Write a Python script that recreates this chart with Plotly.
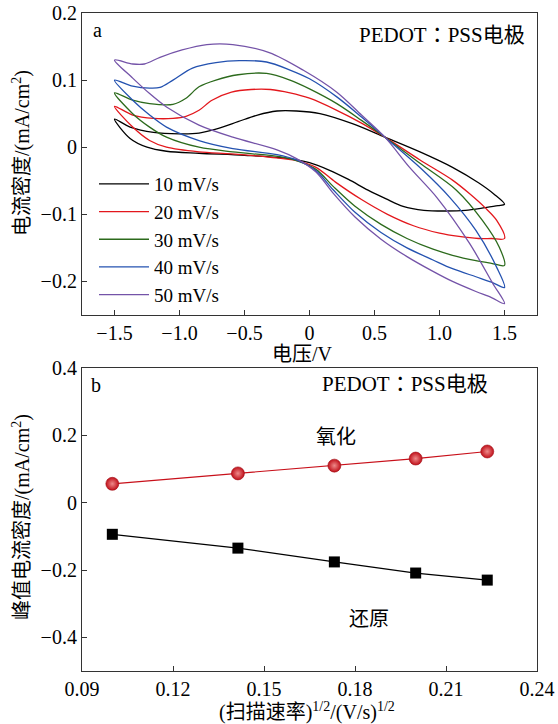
import plotly.graph_objects as go

W, H = 558, 724
SERIF = "Liberation Serif, Times New Roman, Noto Sans CJK SC"
SERIF_TC = "Liberation Serif, Times New Roman, Noto Sans CJK TC"

# ---------------- Panel a: CV curves (forward sweep then reverse sweep) ----------------
scan_labels = ["10 mV/s", "20 mV/s", "30 mV/s", "40 mV/s", "50 mV/s"]
scan_colors = ["#000000", "#e3171c", "#2c6a1c", "#2452b0", "#7453a8"]

v10 = [-1.5, -1.38, -1.2, -1.0, -0.85, -0.7, -0.55, -0.4, -0.25, -0.1, 0.08, 0.33, 0.58, 0.85, 1.1, 1.3, 1.42, 1.5,
       1.45, 1.35, 1.2, 1.05, 0.88, 0.72, 0.59, 0.45, 0.3, 0.15, 0.0, -0.2, -0.5, -0.85, -1.1, -1.25, -1.38, -1.5]
i10 = [0.042, 0.030, 0.022, 0.020, 0.021, 0.028, 0.038, 0.048, 0.054, 0.054, 0.050, 0.035, 0.015, -0.007, -0.030, -0.053, -0.070, -0.085,
       -0.087, -0.090, -0.094, -0.095, -0.094, -0.088, -0.077, -0.064, -0.048, -0.034, -0.023, -0.016, -0.012, -0.009, -0.006, 0.0, 0.013, 0.042]

v20 = [-1.5, -1.36, -1.2, -1.05, -0.95, -0.85, -0.75, -0.6, -0.45, -0.3, -0.15, 0.0, 0.21, 0.4, 0.58, 0.85, 1.1, 1.23, 1.35, 1.44, 1.5,
       1.4, 1.3, 1.15, 1.0, 0.8, 0.6, 0.4, 0.2, 0.05, -0.1, -0.3, -0.6, -0.85, -1.1, -1.23, -1.36, -1.5]
i20 = [0.061, 0.048, 0.043, 0.043, 0.046, 0.055, 0.070, 0.082, 0.086, 0.086, 0.081, 0.073, 0.055, 0.036, 0.015, -0.019, -0.049, -0.069, -0.090, -0.109, -0.136,
       -0.136, -0.136, -0.133, -0.128, -0.117, -0.100, -0.078, -0.052, -0.030, -0.020, -0.015, -0.010, -0.007, 0.0, 0.010, 0.030, 0.061]

v30 = [-1.5, -1.36, -1.23, -1.05, -0.95, -0.85, -0.72, -0.55, -0.33, -0.15, 0.0, 0.21, 0.4, 0.58, 0.85, 1.13, 1.33, 1.46, 1.5,
       1.4, 1.28, 1.1, 0.95, 0.75, 0.55, 0.35, 0.18, 0.05, -0.1, -0.23, -0.59, -0.85, -1.1, -1.23, -1.36, -1.5]
i30 = [0.081, 0.070, 0.065, 0.064, 0.073, 0.090, 0.100, 0.108, 0.110, 0.100, 0.087, 0.065, 0.040, 0.015, -0.024, -0.064, -0.109, -0.149, -0.176,
       -0.173, -0.169, -0.161, -0.152, -0.136, -0.115, -0.088, -0.058, -0.033, -0.020, -0.014, -0.007, 0.0, 0.015, 0.030, 0.050, 0.081]

v40 = [-1.5, -1.36, -1.23, -1.15, -1.05, -0.9, -0.72, -0.54, -0.33, -0.15, 0.0, 0.21, 0.4, 0.58, 0.87, 1.08, 1.28, 1.44, 1.5,
       1.4, 1.28, 1.1, 0.95, 0.75, 0.55, 0.35, 0.18, 0.05, -0.1, -0.25, -0.59, -0.85, -1.1, -1.23, -1.36, -1.5]
i40 = [0.100, 0.091, 0.088, 0.089, 0.100, 0.118, 0.126, 0.129, 0.127, 0.115, 0.102, 0.075, 0.045, 0.015, -0.034, -0.075, -0.124, -0.179, -0.209,
       -0.201, -0.193, -0.181, -0.168, -0.150, -0.127, -0.097, -0.063, -0.035, -0.019, -0.011, -0.002, 0.010, 0.030, 0.048, 0.070, 0.100]

v50 = [-1.5, -1.36, -1.27, -1.15, -0.98, -0.79, -0.59, -0.31, -0.05, 0.21, 0.4, 0.58, 0.77, 0.98, 1.23, 1.41, 1.5,
       1.4, 1.28, 1.1, 0.95, 0.75, 0.55, 0.35, 0.18, 0.05, -0.1, -0.25, -0.59, -0.85, -1.1, -1.23, -1.36, -1.5]
i50 = [0.130, 0.124, 0.124, 0.134, 0.145, 0.153, 0.153, 0.141, 0.115, 0.082, 0.048, 0.015, -0.030, -0.075, -0.143, -0.203, -0.233,
       -0.224, -0.215, -0.200, -0.185, -0.163, -0.137, -0.104, -0.068, -0.037, -0.017, -0.004, 0.015, 0.033, 0.060, 0.080, 0.103, 0.130]

cv_v = [v10, v20, v30, v40, v50]
cv_i = [i10, i20, i30, i40, i50]

xa_ticks = [-1.5, -1.0, -0.5, 0, 0.5, 1.0, 1.5]
xa_text = ["\u22121.5", "\u22121.0", "\u22120.5", "0", "0.5", "1.0", "1.5"]
ya_ticks = [0.2, 0.1, 0, -0.1, -0.2]
ya_text = ["0.2", "0.1", "0", "\u22120.1", "\u22120.2"]

# ---------------- Panel b: peak current vs sqrt(scan rate) ----------------
sqrt_rate = [0.1, 0.1414, 0.1732, 0.2, 0.2236]
ox_peak = [0.056, 0.087, 0.110, 0.131, 0.152]
red_peak = [-0.094, -0.135, -0.176, -0.209, -0.230]

xb_ticks = [0.09, 0.12, 0.15, 0.18, 0.21, 0.24]
xb_text = ["0.09", "0.12", "0.15", "0.18", "0.21", "0.24"]
yb_ticks = [0.4, 0.2, 0, -0.2, -0.4]
yb_text = ["0.4", "0.2", "0", "\u22120.2", "\u22120.4"]


def px(x):
    return x / W


def py(y):
    return 1 - y / H


fig = go.Figure()
for k in range(5):
    fig.add_trace(go.Scatter(
        x=cv_v[k], y=cv_i[k], mode="lines", name=scan_labels[k],
        line=dict(color=scan_colors[k], width=1.3, shape="spline", smoothing=0.9),
        xaxis="x", yaxis="y", showlegend=True))

fig.add_trace(go.Scatter(
    x=sqrt_rate, y=ox_peak, mode="lines+markers", showlegend=False,
    line=dict(color="#c8101a", width=1.2),
    marker=dict(symbol="circle", size=13, color="#c0101a",
                gradient=dict(type="radial", color="#ee8a8a"),
                line=dict(color="#a00c14", width=0.6)),
    xaxis="x2", yaxis="y2"))
fig.add_trace(go.Scatter(
    x=sqrt_rate, y=red_peak, mode="lines+markers", showlegend=False,
    line=dict(color="#000000", width=1.2),
    marker=dict(symbol="square", size=11, color="#000000"),
    xaxis="x2", yaxis="y2"))

dom_x = [px(82), px(537)]
axis_common = dict(showline=True, linecolor="#333333", linewidth=1.2, mirror=True,
                   ticks="inside", ticklen=5, tickwidth=1.2, tickcolor="#333333",
                   showgrid=False, zeroline=False, automargin=False,
                   tickfont=dict(family=SERIF, size=20, color="#000000"))

fig.update_layout(
    width=W, height=H, margin=dict(l=0, r=0, t=0, b=0, pad=0, autoexpand=False),
    paper_bgcolor="white", plot_bgcolor="white",
    xaxis=dict(domain=dom_x, range=[-1.75, 1.75], anchor="y",
               tickvals=xa_ticks, ticktext=xa_text, **axis_common),
    yaxis=dict(domain=[py(315), py(13)], range=[-0.25, 0.2], anchor="x",
               tickvals=ya_ticks, ticktext=ya_text, **axis_common),
    xaxis2=dict(domain=dom_x, range=[0.09, 0.24], anchor="y2",
                tickvals=xb_ticks, ticktext=xb_text, **axis_common),
    yaxis2=dict(domain=[py(671), py(368)], range=[-0.5, 0.4], anchor="x2",
                tickvals=yb_ticks, ticktext=yb_text, **axis_common),
    legend=dict(x=px(94), y=py(165), xanchor="left", yanchor="top",
                font=dict(family=SERIF, size=19, color="#000000"),
                bgcolor="rgba(0,0,0,0)", borderwidth=0, itemwidth=50,
                traceorder="normal", tracegroupgap=0),
    showlegend=True,
)

ann = [
    dict(text="a", x=px(97), y=py(30)),
    dict(text="PEDOT\uff1aPSS\u7535\u6781", x=px(527), y=py(35), xanchor="right",
         font=dict(family=SERIF_TC, size=21, color="#000000")),
    dict(text="\u7535\u538b/V", x=px(302), y=py(354)),
    dict(text="\u7535\u6d41\u5bc6\u5ea6/(mA/cm<sup>2</sup>)", x=px(21), y=py(153), textangle=-90),
    dict(text="b", x=px(96), y=py(385)),
    dict(text="PEDOT\uff1aPSS\u7535\u6781", x=px(490), y=py(384), xanchor="right",
         font=dict(family=SERIF_TC, size=21, color="#000000")),
    dict(text="\u6c27\u5316", x=px(336), y=py(437)),
    dict(text="\u8fd8\u539f", x=px(369), y=py(619)),
    dict(text="\u5cf0\u503c\u7535\u6d41\u5bc6\u5ea6/(mA/cm<sup>2</sup>)", x=px(21), y=py(517), textangle=-90),
    dict(text="(\u626b\u63cf\u901f\u7387)<sup>1/2</sup>/(V/s)<sup>1/2</sup>", x=px(307), y=py(711)),
]
for a in ann:
    base = dict(xref="paper", yref="paper", showarrow=False,
                font=dict(family=SERIF, size=20, color="#000000"),
                xanchor="center", yanchor="middle")
    base.update(a)
    fig.add_annotation(**base)

fig.write_html("out.html")
